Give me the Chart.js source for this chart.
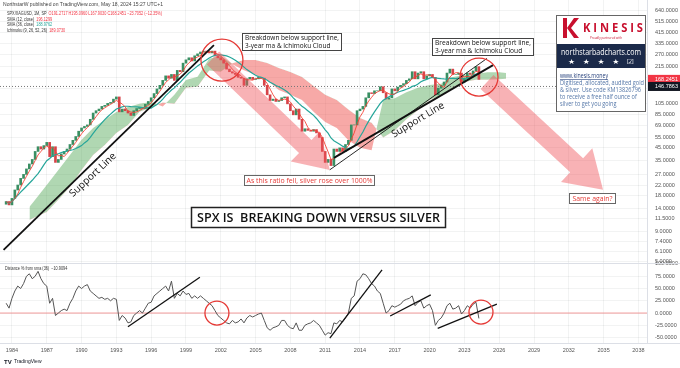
<!DOCTYPE html>
<html>
<head>
<meta charset="utf-8">
<script src="https://cdn.jsdelivr.net/npm/chart.js@4.4.0/dist/chart.umd.min.js"></script>
<style>
  html, body { margin: 0; padding: 0; background: #fff; }
</style>
</head>
<body>
<canvas id="chart" width="680" height="368"></canvas>
<script>
// quarterly candles, SPX / silver (XAGUSD) ratio, first one is Q3 1983
const startYear = 1983.5;
const firstOpen = 15.2;
const quarterCloses = [
  16, 15,                 // 1983
  17, 20, 22, 25,         // 1984
  27, 30, 33, 36,         // 1985
  42, 46, 44, 47,         // 1986
  50, 38, 46, 34,         // 1987
  36, 40, 42, 44,         // 1988
  48, 52, 56, 62,         // 1989
  66, 68, 70, 78,         // 1990
  88, 92, 95, 100,        // 1991
  102, 106, 108, 115,     // 1992
  120, 90, 95, 92,        // 1993
  88, 84, 92, 96,         // 1994
  98, 96, 104, 110,       // 1995
  118, 128, 140, 150,     // 1996
  165, 180, 172, 185,     // 1997
  165, 200, 195, 230,     // 1998
  245, 255, 240, 265,     // 1999
  275, 285, 290, 288,     // 2000
  280, 290, 265, 255,     // 2001
  245, 230, 205, 195,     // 2002
  190, 185, 175, 172,     // 2003
  150, 170, 175, 168,     // 2004
  170, 175, 172, 150,     // 2005
  125, 112, 115, 110,     // 2006
  112, 118, 120, 105,     // 2007
  92, 85, 95, 78,         // 2008
  62, 65, 63, 62,         // 2009
  64, 60, 55, 42,         // 2010
  34, 36, 32, 44,         // 2011
  42, 45, 42, 48,         // 2012
  52, 70, 70, 92,         // 2013
  95, 100, 118, 130,      // 2014
  128, 135, 135, 146,     // 2015
  130, 115, 118, 140,     // 2016
  135, 145, 150, 155,     // 2017
  165, 170, 195, 170,     // 2018
  190, 195, 170, 180,     // 2019
  185, 175, 125, 142,     // 2020
  150, 160, 190, 205,     // 2021
  185, 185, 190, 160,     // 2022
  172, 190, 185, 198,     // 2023
  215, 168.2451           // 2024
];

// Ichimoku cloud edges (already shifted forward)
const cloudYears = [1985.5, 1986, 1987, 1988, 1989, 1990, 1991, 1992, 1993, 1994, 1995, 1996, 1997, 1998, 1999, 2000, 2001, 2002, 2003, 2004, 2005,
  2006, 2007, 2008, 2009, 2010, 2011, 2012, 2013, 2014, 2015, 2016, 2017, 2018, 2019, 2020, 2021, 2022, 2023, 2024, 2025, 2026, 2026.6];
const leadA = [14.4, 16.6, 22, 29.4, 39.2, 52.5, 66, 77.5, 89.8, 99, 105, 109, 100, 125, 166, 177, 250, 265, 225, 201, 184,
  166, 137, 125, 113, 90, 74, 66, 52, 45, 43, 113, 117, 131, 143, 151, 155, 176, 183, 187, 193, 193, 190];
const leadB = [11.2, 11.8, 13.1, 16.6, 21.2, 29.4, 39.2, 47.5, 60, 70, 90, 98, 108, 105, 143, 146, 200, 195, 230, 244, 244,
  231, 209, 194, 176, 148, 125, 113, 94, 80, 73, 55, 63, 78, 93, 113, 124, 143, 160, 167, 167, 169, 170];

// "Distance % from sma (36)" pane, same quarters as the candles
const distanceFromSma = [
  20, 10,
  30, 45, 55, 50,
  60, 75, 80, 70,
  75, 85, 70, 60,
  55, 20, 30, -5,
  0, 5, 8, 5,
  20, 30, 45, 55,
  50, 55, 58, 45,
  40, 35, 30, 32,
  28, 30, 25, 30,
  28, -15, -5, -10,
  -20, -18, -5, 0,
  5, 0, 10, 20,
  22, 35, 40, 45,
  50, 55, 45, 65,
  30, 40, 35, 45,
  38, 40, 30, 35,
  30, 35, 30, 25,
  20, 15, 5, -5,
  -10, -15, -20, -22,
  -15, -20, -18, -12,
  -20, -10, -5, -8,
  -5, -2, 0, -15,
  -30, -35, -30, -28,
  -25, -15, -15, -25,
  -30, -32, -20, -35,
  -35, -25, -22, -20,
  -15, -20, -25, -35,
  -45, -40, -42, -20,
  -22, -15, -18, -10,
  0, 30, 35, 65,
  70, 80, 78, 70,
  60, 55, 45, 40,
  20, 0, 5, 15,
  12, 15, 18, 25,
  28, 30, 35, 15,
  22, 25, 10, 15,
  18, 5, -25, -15,
  -10, 0, 15, 20,
  8, 10, 15, -2,
  5, 15, 10, 18,
  22, -10.9094
];

const yearTicks = [1984, 1987, 1990, 1993, 1996, 1999, 2002, 2005, 2008, 2011, 2014, 2017, 2020, 2023, 2026, 2029, 2032, 2035, 2038];
const priceTicks = [640, 515, 415, 335, 270, 215, 175, 140, 105, 85, 69, 55, 45, 35, 27, 22, 18, 14, 11.5, 9, 7.4, 6.1, 5];
const distTicks = [100, 75, 50, 25, 0, -25, -50];
const lastClose = 168.2451;
const markedLevel = 146.7863;

const xMin = 1982.97, xMax = 2038.74;
const qYear = i => startYear + i / 4;

// moving averages of the closes (12 and 36 months = 4 and 12 quarters)
function sma(arr, n) {
  return arr.map((_, i) => {
    const s = arr.slice(Math.max(0, i - n + 1), i + 1);
    return s.reduce((a, b) => a + b, 0) / s.length;
  });
}
const sma12 = sma(quarterCloses, 4);
const sma36 = sma(quarterCloses, 12);

const candles = quarterCloses.map((c, i) => ({ x: qYear(i), y: [i ? quarterCloses[i - 1] : firstOpen, c] }));
const candleColors = candles.map(d => d.y[1] >= d.y[0] ? '#3a8f63' : '#d64449');

const tickFont = { family: "'Liberation Sans', Arial, sans-serif", size: 5.5 };
const gridColor = 'rgba(42,46,57,0.06)';
const noPad = s => { s.paddingTop = 0; s.paddingBottom = 0; s.paddingLeft = 0; s.paddingRight = 0; };

// ---- drawings on top of the chart ----
function fitText(ctx, str, x, y, w, font, color, align) {
  ctx.save();
  ctx.font = font;
  ctx.fillStyle = color;
  ctx.textBaseline = 'middle';
  ctx.textAlign = align || 'left';
  const k = w ? w / ctx.measureText(str).width : 1;
  ctx.translate(x, y);
  ctx.scale(k, 1);
  ctx.fillText(str, 0, 0);
  ctx.restore();
  return k;
}
function runs(ctx, parts, x, y, font, k) {
  ctx.save();
  ctx.font = font;
  ctx.textBaseline = 'middle';
  ctx.translate(x, y);
  ctx.scale(k, 1);
  let cx = 0;
  for (const [t, c] of parts) {
    ctx.fillStyle = c;
    ctx.fillText(t, cx, 0);
    cx += ctx.measureText(t).width;
  }
  ctx.restore();
}
function rectBox(ctx, x, y, w, h, fill, stroke, lw) {
  ctx.fillStyle = fill;
  ctx.fillRect(x, y, w, h);
  if (stroke) {
    ctx.strokeStyle = stroke;
    ctx.lineWidth = lw;
    ctx.strokeRect(x + 0.5, y + 0.5, w - 1, h - 1);
  }
}
function arrow(ctx, a, b, body, head, headLen, color) {
  const ang = Math.atan2(b[1] - a[1], b[0] - a[0]);
  const len = Math.hypot(b[0] - a[0], b[1] - a[1]);
  ctx.save();
  ctx.translate(a[0], a[1]);
  ctx.rotate(ang);
  ctx.beginPath();
  ctx.moveTo(0, -body / 2);
  ctx.lineTo(len - headLen, -body / 2);
  ctx.lineTo(len - headLen, -head / 2);
  ctx.lineTo(len, 0);
  ctx.lineTo(len - headLen, head / 2);
  ctx.lineTo(len - headLen, body / 2);
  ctx.lineTo(0, body / 2);
  ctx.closePath();
  ctx.fillStyle = color;
  ctx.fill();
  ctx.restore();
}
function seg(ctx, a, b, w, color) {
  ctx.strokeStyle = color;
  ctx.lineWidth = w;
  ctx.beginPath();
  ctx.moveTo(a[0], a[1]);
  ctx.lineTo(b[0], b[1]);
  ctx.stroke();
}
function ring(ctx, c, r) {
  ctx.strokeStyle = '#e53935';
  ctx.lineWidth = 1.3;
  ctx.beginPath();
  ctx.arc(c[0], c[1], r, 0, Math.PI * 2);
  ctx.stroke();
}

const overlay = {
  id: 'overlay',
  afterDatasetsDraw(chart) {
    const ctx = chart.ctx;
    const { x, y, y2 } = chart.scales;
    const P = (yr, v) => [x.getPixelForValue(yr), y.getPixelForValue(v)];
    const Q = (yr, v) => [x.getPixelForValue(yr), y2.getPixelForValue(v)];
    const ann = "'Open Sans', 'Liberation Sans', sans-serif";
    const red = '#e53935';
    ctx.save();

    // pane borders
    ctx.strokeStyle = '#dcdfe6';
    ctx.lineWidth = 1;
    ctx.beginPath();
    ctx.moveTo(0, Math.round(y.bottom) + 0.5); ctx.lineTo(680, Math.round(y.bottom) + 0.5);
    ctx.moveTo(0, Math.round(y2.bottom) + 0.5); ctx.lineTo(680, Math.round(y2.bottom) + 0.5);
    ctx.moveTo(Math.round(x.right) + 0.5, 0); ctx.lineTo(Math.round(x.right) + 0.5, y2.bottom);
    ctx.stroke();

    // pink arrows
    arrow(ctx, P(2001.33, 254), P(2011.4, 29.4), 18, 42, 34, 'rgba(240,84,92,0.45)');
    arrow(ctx, P(2024.95, 160), P(2034.95, 20.1), 19, 46, 36, 'rgba(240,84,92,0.45)');

    // support lines
    seg(ctx, P(1983.28, 6.3), P(2001.41, 326), 1.8, '#111');
    seg(ctx, P(2011.76, 37.1), P(2025.47, 221.5), 1.8, '#111');
    seg(ctx, P(2011.4, 29.5), P(2024.95, 252), 0.9, '#111');
    ring(ctx, P(2002.1, 244), 21);
    ring(ctx, P(2024.26, 176), 19);

    // rotated labels
    const rot = (pt, deg, str) => {
      ctx.save();
      ctx.translate(pt[0], pt[1]);
      ctx.rotate(deg * Math.PI / 180);
      ctx.font = '10px ' + ann;
      ctx.fillStyle = '#111';
      ctx.textAlign = 'center';
      ctx.textBaseline = 'middle';
      ctx.fillText(str, 0, 0);
      ctx.restore();
    };
    rot(P(1990.98, 26.7), -43, 'Support Line');
    rot(P(2019.0, 77), -31, 'Support Line');

    // lower pane trend lines and circles
    seg(ctx, Q(1994.0, -28), Q(2000.2, 73), 1.3, '#111');
    seg(ctx, Q(2011.4, -51), Q(2015.9, 88), 1.3, '#111');
    seg(ctx, Q(2016.6, -6), Q(2020.1, 37), 1.3, '#111');
    seg(ctx, Q(2020.7, -31), Q(2025.8, 18), 1.3, '#111');
    ring(ctx, Q(2001.67, 0), 12);
    ring(ctx, Q(2024.43, 2), 12);

    // text boxes
    rectBox(ctx, 242, 33, 100, 18, '#fff', '#444', 1);
    let k = fitText(ctx, 'Breakdown below support line,', 245, 38, 94, '7px ' + ann, '#111');
    runs(ctx, [['3-year ma & Ichimoku Cloud', '#111']], 245, 46, '7px ' + ann, k);
    rectBox(ctx, 432, 38, 102, 18, '#fff', '#444', 1);
    k = fitText(ctx, 'Breakdown below support line,', 435, 43, 96, '7px ' + ann, '#111');
    runs(ctx, [['3-year ma & Ichimoku Cloud', '#111']], 435, 51, '7px ' + ann, k);
    rectBox(ctx, 244, 175, 131, 11, '#fff', '#666', 1);
    fitText(ctx, 'As this ratio fell, silver rose over 1000%', 309.5, 180.5, 126, '7px ' + ann, red, 'center');
    rectBox(ctx, 569, 193, 47, 11, '#fff', '#666', 1);
    fitText(ctx, 'Same again?', 592.5, 198.5, 40, '7px ' + ann, red, 'center');
    rectBox(ctx, 191, 207, 255, 21, '#fff', '#222', 1.5);
    fitText(ctx, 'SPX IS  BREAKING DOWN VERSUS SILVER', 318.5, 218, 243, '600 13px ' + ann, '#111', 'center');

    // Kinesis promo box
    rectBox(ctx, 556, 15, 90, 97, '#fff', '#666', 1);
    ctx.fillStyle = '#c8102e';
    ctx.fillRect(563, 18, 4, 20);
    ctx.beginPath();
    ctx.moveTo(567, 28); ctx.lineTo(574, 18); ctx.lineTo(579, 18); ctx.lineTo(571, 28);
    ctx.lineTo(579, 38); ctx.lineTo(574, 38); ctx.closePath(); ctx.fill();
    fitText(ctx, 'K I N E S I S', 583, 28, 60, 'bold 13px ' + ann, '#c8102e');
    fitText(ctx, 'Proudly partnered with', 590, 37.5, 32, '4px ' + ann, '#c8102e');
    ctx.fillStyle = '#1b2a4a';
    ctx.fillRect(557, 44, 88, 24);
    fitText(ctx, 'northstarbadcharts.com', 601, 52, 80, '9px ' + ann, '#fff', 'center');
    fitText(ctx, '\u2605   \u2605   \u2605   \u2605   \u2611', 601, 62, 66, '7px DejaVu Sans', '#fff', 'center');
    fitText(ctx, 'www.kinesis.money', 560, 76, 48, '6.5px ' + ann, '#243f7a');
    ctx.fillStyle = '#243f7a';
    ctx.fillRect(560, 79, 48, 0.6);
    k = fitText(ctx, 'Digitised, allocated, audited gold', 560, 83, 84, '6.5px ' + ann, '#5577a8');
    runs(ctx, [['& silver. Use code KM13826796', '#5577a8']], 560, 90, '6.5px ' + ann, k);
    runs(ctx, [['to receive a free half ounce of', '#5577a8']], 560, 97, '6.5px ' + ann, k);
    runs(ctx, [['silver to get you going', '#5577a8']], 560, 104, '6.5px ' + ann, k);

    // header
    const hf = "5px 'Liberation Sans', Arial, sans-serif";
    fitText(ctx, 'NorthstarW published on TradingView.com, May 18, 2024 15:27 UTC+1', 3, 5, 160, hf, '#444');
    const hr = '#f23645';
    ctx.font = hf;
    const line2 = [['SPX/XAGUSD, 1M, SP  ', '#333'], ['O191.2717 H195.0960 L167.9030 C168.2451 \u221223.7052 (\u221212.35%)', hr]];
    const hk = 155 / ctx.measureText(line2.map(p => p[0]).join('')).width;
    runs(ctx, line2, 7, 13.5, hf, hk);
    runs(ctx, [['SMA (12, close)  ', '#333'], ['196.1299', hr]], 7, 19.5, hf, hk);
    runs(ctx, [['SMA (36, close)  ', '#333'], ['188.9762', '#26a69a']], 7, 25, hf, hk);
    runs(ctx, [['Ichimoku (9, 26, 52, 26)  ', '#333'], ['189.0730', hr]], 7, 30.5, hf, hk);
    runs(ctx, [['Distance % from sma (36)  ', '#333'], ['\u221210.9094', '#333']], 5, y.bottom + 6, hf, hk);

    // price labels on the axis
    const tag = (v, bg, str) => {
      const py = y.getPixelForValue(v);
      ctx.fillStyle = bg;
      ctx.fillRect(x.right + 1, py - 4.5, 680 - x.right - 1, 9);
      fitText(ctx, str, x.right + 8, py, 0, "5.5px 'Liberation Sans', Arial, sans-serif", '#fff');
    };
    tag(lastClose, '#f23645', lastClose.toFixed(4));
    tag(markedLevel, '#131722', markedLevel.toFixed(4));

    // TradingView mark
    fitText(ctx, 'TV', 4, 362, 0, "bold 6px 'Liberation Sans', Arial, sans-serif", '#131722');
    fitText(ctx, 'TradingView', 14, 362, 0, "5px 'Liberation Sans', Arial, sans-serif", '#131722');

    ctx.restore();
  }
};

new Chart(document.getElementById('chart'), {
  type: 'bar',
  data: {
    datasets: [
      {
        type: 'line', label: 'Lead 1', yAxisID: 'y', data: cloudYears.map((yr, i) => ({ x: yr, y: leadA[i] })),
        borderWidth: 0, pointRadius: 0, order: 10,
        fill: { target: '+1', above: 'rgba(67,160,71,0.42)', below: 'rgba(239,83,80,0.5)' }
      },
      { type: 'line', label: 'Lead 2', yAxisID: 'y', data: cloudYears.map((yr, i) => ({ x: yr, y: leadB[i] })), borderWidth: 0, pointRadius: 0, order: 10 },
      { type: 'bar', label: 'SPX/XAGUSD', yAxisID: 'y', data: candles, backgroundColor: candleColors, borderWidth: 0, barThickness: 2, order: 5 },
      { type: 'line', label: 'SMA 12', yAxisID: 'y', data: sma12.map((v, i) => ({ x: qYear(i), y: v })), borderColor: '#f44336', borderWidth: 0.9, pointRadius: 0, order: 3 },
      { type: 'line', label: 'SMA 36', yAxisID: 'y', data: sma36.map((v, i) => ({ x: qYear(i), y: v })), borderColor: '#26a69a', borderWidth: 1.2, pointRadius: 0, order: 4 },
      { type: 'line', label: 'Level', yAxisID: 'y', data: [{ x: xMin, y: markedLevel }, { x: xMax, y: markedLevel }], borderColor: '#777', borderWidth: 1, borderDash: [1, 2], pointRadius: 0, order: 6 },
      { type: 'line', label: 'Zero', yAxisID: 'y2', data: [{ x: xMin, y: 0 }, { x: xMax, y: 0 }], borderColor: '#f29a9a', borderWidth: 1, pointRadius: 0, order: 2 },
      { type: 'line', label: 'Distance % from sma (36)', yAxisID: 'y2', data: distanceFromSma.map((v, i) => ({ x: qYear(i), y: v })), borderColor: '#555', borderWidth: 1, pointRadius: 0, order: 1 }
    ]
  },
  options: {
    responsive: false,
    animation: false,
    devicePixelRatio: 1,
    layout: { padding: { top: 0, right: 0, bottom: 11, left: 0 } },
    plugins: { legend: { display: false }, tooltip: { enabled: false } },
    scales: {
      x: {
        type: 'linear', min: xMin, max: xMax, offset: false,
        grid: { color: gridColor, drawTicks: false, offset: false },
        border: { display: false },
        ticks: { font: tickFont, color: '#555', padding: 4, maxRotation: 0, autoSkip: false, callback: v => String(v) },
        afterBuildTicks: s => { s.ticks = yearTicks.map(v => ({ value: v })); },
        afterFit: s => { s.height = 14; noPad(s); }
      },
      y: {
        type: 'logarithmic', position: 'right', stack: 'panes', stackWeight: 263,
        min: 4.9, max: 776,
        grid: { color: gridColor, drawTicks: false },
        border: { display: false },
        ticks: { font: tickFont, color: '#555', padding: 8, autoSkip: false, callback: v => Number(v).toFixed(4) },
        afterBuildTicks: s => { s.ticks = priceTicks.map(v => ({ value: v })); },
        afterFit: s => { s.width = 33; noPad(s); }
      },
      y2: {
        type: 'linear', position: 'right', stack: 'panes', stackWeight: 80,
        min: -61, max: 102,
        grid: { color: gridColor, drawTicks: false },
        border: { display: false },
        ticks: { font: tickFont, color: '#555', padding: 8, autoSkip: false, callback: v => Number(v).toFixed(4) },
        afterBuildTicks: s => { s.ticks = distTicks.map(v => ({ value: v })); },
        afterFit: s => { s.width = 33; noPad(s); }
      }
    }
  },
  plugins: [overlay]
});
</script>
</body>
</html>
